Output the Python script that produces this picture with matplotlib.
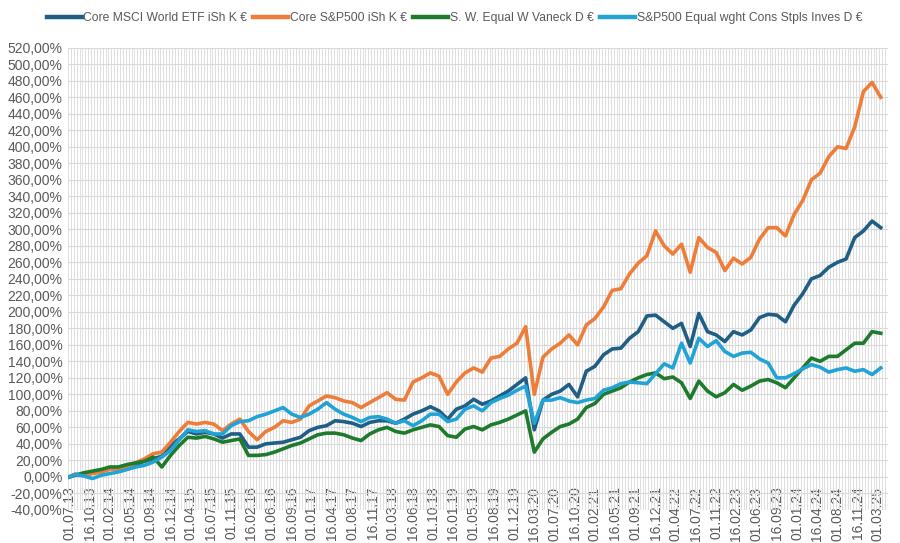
import matplotlib
matplotlib.use("Agg")
import matplotlib.pyplot as plt
from matplotlib.ticker import FuncFormatter, MultipleLocator, FixedLocator

# half-month category index of each sampled point (0 = 01.07.13)
idx = [0] + list(range(2, 282, 3))

msci_world = [0, 3, 2, 5, 7, 10, 10, 13, 15, 19, 22, 25, 38, 46, 55, 52, 54, 52, 47, 52,
              52, 36, 36, 40, 41, 42, 45, 48, 56, 60, 62, 68, 67, 65, 61, 66, 68, 68, 65, 70,
              76, 80, 85, 80, 70, 82, 86, 94, 88, 92, 98, 104, 112, 120, 57, 93, 100, 104, 112, 97,
              128, 134, 148, 155, 156, 168, 176, 195, 196, 188, 180, 186, 158, 198, 176, 172, 164, 176, 172, 178,
              193, 197, 196, 188, 208, 222, 240, 244, 254, 260, 264, 290, 298, 310, 302]

sp500 = [0, 3, 2, 4, 6, 9, 10, 12, 17, 22, 28, 30, 42, 55, 66, 64, 66, 64, 56, 64,
         70, 55, 45, 55, 60, 68, 66, 70, 86, 92, 98, 96, 92, 90, 84, 90, 96, 102, 94, 93,
         115, 120, 126, 122, 100, 115, 126, 132, 127, 144, 146, 155, 162, 182, 100, 145, 155, 162, 172, 160,
         184, 192, 206, 226, 228, 246, 259, 268, 298, 280, 270, 282, 248, 290, 278, 272, 250, 265, 258, 266,
         288, 302, 302, 292, 318, 335, 360, 368, 388, 400, 398, 424, 467, 478, 460]

sw_equal = [0, 2, 5, 7, 9, 12, 12, 15, 17, 19, 24, 12, 26, 38, 48, 47, 49, 46, 42, 44,
            46, 26, 26, 27, 30, 34, 38, 41, 46, 51, 53, 53, 51, 47, 44, 52, 57, 60, 55, 53,
            57, 60, 63, 61, 50, 48, 58, 61, 57, 63, 66, 70, 75, 80, 30, 46, 54, 61, 64, 70,
            84, 89, 100, 104, 108, 115, 120, 124, 126, 119, 121, 114, 95, 116, 104, 97, 102, 112, 105, 110,
            116, 118, 114, 108, 120, 132, 144, 140, 146, 146, 154, 162, 162, 176, 174]

cons_stpls = [0, 3, 1, -2, 2, 4, 6, 9, 12, 14, 18, 24, 32, 45, 57, 55, 56, 52, 52, 62,
              67, 68, 73, 76, 80, 84, 76, 72, 76, 82, 90, 82, 76, 72, 67, 72, 73, 70, 65, 68,
              62, 68, 76, 76, 67, 70, 82, 86, 80, 90, 95, 99, 105, 110, 65, 93, 93, 96, 92, 90,
              93, 95, 105, 108, 113, 115, 114, 113, 125, 137, 132, 162, 138, 168, 158, 165, 152, 146, 150, 151,
              143, 138, 120, 120, 125, 131, 136, 133, 127, 130, 132, 128, 130, 124, 132]

tick_labels = ["01.07.13", "16.10.13", "01.02.14", "16.05.14", "01.09.14", "16.12.14",
               "01.04.15", "16.07.15", "01.11.15", "16.02.16", "01.06.16", "16.09.16",
               "01.01.17", "16.04.17", "01.08.17", "16.11.17", "01.03.18", "16.06.18",
               "01.10.18", "16.01.19", "01.05.19", "16.08.19", "01.12.19", "16.03.20",
               "01.07.20", "16.10.20", "01.02.21", "16.05.21", "01.09.21", "16.12.21",
               "01.04.22", "16.07.22", "01.11.22", "16.02.23", "01.06.23", "16.09.23",
               "01.01.24", "16.04.24", "01.08.24", "16.11.24", "01.03.25"]

series = [
    ("Core MSCI World ETF iSh K €", msci_world, "#1F5F85"),
    ("Core S&P500 iSh K €", sp500, "#EE7D3A"),
    ("S. W. Equal W Vaneck D €", sw_equal, "#1E7A2C"),
    ("S&P500 Equal wght Cons Stpls Inves D €", cons_stpls, "#22A3D6"),
]

N_CAT = 284
TEXT = "#595959"
GRID = "#D9D9D9"
FONT = ["Liberation Sans", "DejaVu Sans"]

fig = plt.figure(figsize=(9, 5.43), dpi=100)
ax = fig.add_axes([0.0756, 0.061, 0.911, 0.851])

# Excel puts the category axis at 0 %, labels hang over the negative area
ax.spines["bottom"].set_position(("data", 0))

for name, vals, col in series:
    ax.plot(idx, vals, color=col, lw=2.6, label=name, solid_joinstyle="round")

ax.set_xlim(-0.5, N_CAT - 0.5)
ax.set_ylim(-40, 520)
ax.yaxis.set_major_locator(MultipleLocator(20))
ax.yaxis.set_major_formatter(FuncFormatter(lambda v, p: f"{v:.2f}".replace(".", ",") + "%"))

ax.set_xticks(list(range(0, 7 * len(tick_labels), 7)))
ax.set_xticklabels(tick_labels, rotation=90, family=FONT)
ax.xaxis.set_minor_locator(FixedLocator([i + 0.5 for i in range(-1, N_CAT)]))
for lab in ax.get_yticklabels():
    lab.set_fontfamily(FONT)

ax.grid(True, which="major", axis="y", color=GRID, lw=0.8)
ax.grid(True, which="minor", axis="x", color=GRID, lw=0.6)
ax.set_axisbelow(True)
for s in ax.spines.values():
    s.set_visible(False)
ax.tick_params(axis="both", which="both", length=0, labelsize=10, colors=TEXT)
ax.tick_params(axis="y", pad=4)
ax.tick_params(axis="x", pad=7)

leg = fig.legend(*ax.get_legend_handles_labels(), loc="center", bbox_to_anchor=(0.505, 0.966),
                 ncol=4, frameon=False, handlelength=2.9, handletextpad=0.15, columnspacing=0.5,
                 prop={"family": FONT, "size": 8.7})
for t in leg.get_texts():
    t.set_color(TEXT)
for h in leg.get_lines():
    h.set_linewidth(3.2)

fig.savefig("out.png", dpi=100)
